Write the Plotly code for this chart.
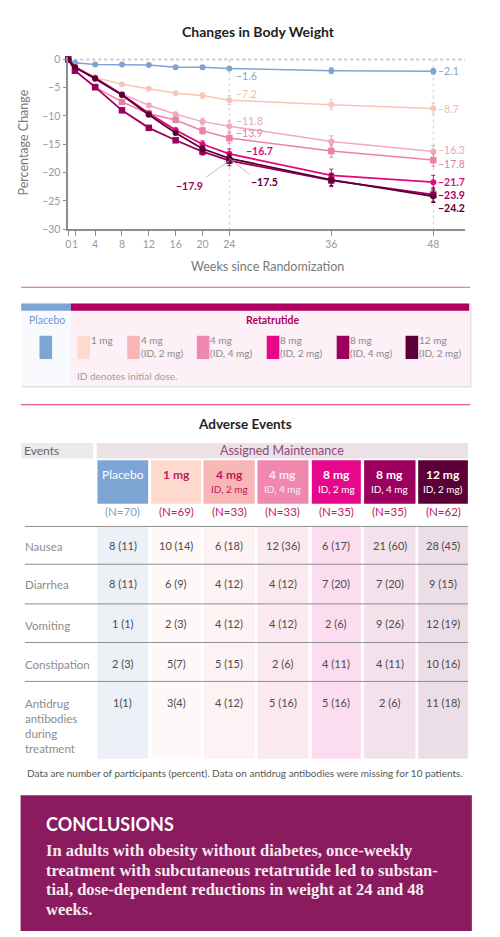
import plotly.graph_objects as go

W, H = 500, 937
def px(x): return x / W
def py(y): return 1 - y / H

# ---------------- data ----------------
WEEKS = [0, 1, 4, 8, 12, 16, 20, 24, 36, 48]
WEEK_TICKS = [0, 1, 4, 8, 12, 16, 20, 24, 36, 48]
Y_TICKS = [0, -5, -10, -15, -20, -25, -30]

GROUPS = ["Placebo", "1 mg", "4 mg (ID, 2 mg)", "4 mg (ID, 4 mg)",
          "8 mg (ID, 2 mg)", "8 mg (ID, 4 mg)", "12 mg (ID, 2 mg)"]
placebo = [0, -0.6, -0.9, -0.9, -1.0, -1.4, -1.4, -1.6, -2.0, -2.1]
mg1 = [0, -1.3, -3.2, -4.4, -5.2, -6.0, -6.4, -7.2, -8.0, -8.7]
mg4_id2 = [0, -1.3, -3.2, -6.1, -8.1, -9.7, -11.0, -11.8, -14.5, -16.3]
mg4_id4 = [0, -2.0, -4.9, -7.5, -9.6, -10.7, -12.6, -13.9, -16.2, -17.8]
mg8_id2 = [0, -1.4, -3.3, -6.2, -9.5, -12.5, -15.0, -16.7, -20.5, -21.7]
mg8_id4 = [0, -2.0, -4.9, -9.0, -12.1, -14.3, -16.3, -17.9, -21.4, -23.9]
mg12 = [0, -1.4, -3.4, -6.3, -9.8, -13.0, -15.8, -17.5, -21.3, -24.2]

err_placebo = [0, 0, 0, 0, 0, 0, 0.2, 0.3, 0.5, 0.5]
err_mg1 = [0, 0, 0, 0, 0, 0, 0.5, 0.8, 0.9, 0.9]
err_mg4_id2 = [0, 0, 0, 0, 0, 0, 0.6, 0.9, 1.0, 1.1]
err_mg4_id4 = [0, 0, 0, 0, 0, 0, 0.6, 0.9, 1.1, 1.1]
err_mg8_id2 = [0, 0, 0, 0, 0, 0, 0.6, 0.9, 1.1, 1.2]
err_mg8_id4 = [0, 0, 0, 0, 0, 0, 0.6, 0.9, 1.1, 1.2]
err_mg12 = [0, 0, 0, 0, 0, 0, 0.5, 0.8, 1.0, 1.1]

# table data
HDR_LINE1 = ["Placebo", "1 mg", "4 mg", "4 mg", "8 mg", "8 mg", "12 mg"]
HDR_LINE2 = ["", "", "ID, 2 mg", "ID, 4 mg", "ID, 2 mg", "ID, 4 mg", "ID, 2 mg)"]
N_PER_GROUP = [70, 69, 33, 33, 35, 35, 62]
EVENT_NAMES = ["Nausea", "Diarrhea", "Vomiting", "Constipation",
               "Antidrug<br>antibodies<br>during<br>treatment"]
nausea = ["8 (11)", "10 (14)", "6 (18)", "12 (36)", "6 (17)", "21 (60)", "28 (45)"]
diarrhea = ["8 (11)", "6 (9)", "4 (12)", "4 (12)", "7 (20)", "7 (20)", "9 (15)"]
vomiting = ["1 (1)", "2 (3)", "4 (12)", "4 (12)", "2 (6)", "9 (26)", "12 (19)"]
constipation = ["2 (3)", "5(7)", "5 (15)", "2 (6)", "4 (11)", "4 (11)", "10 (16)"]
antidrug = ["1(1)", "3(4)", "4 (12)", "5 (16)", "5 (16)", "2 (6)", "11 (18)"]

# ---------------- styles ----------------
FONT = "Lato"
SWATCH = ["#7ea4d3", "#fddacd", "#f6b7b6", "#ef88ae", "#e6078a", "#9c005f", "#5a0036"]
LINEC = ["#7ea4d3", "#f8c6b6", "#f3aab8", "#ec80a9", "#e3087f", "#9c005f", "#5a0036"]
LABELC = ["#7ea4d3", "#f5bca9", "#f0a2b3", "#e97aa4", "#de0a7c", "#9c005f", "#5a0036"]
SYMBOL = ["circle", "circle", "circle", "square", "circle", "square", "circle"]
COLBG = ["#edf0f6", "#fef8f8", "#fdf3f4", "#fbe9f0", "#fcdcef", "#f3e1eb", "#ecdee6"]
HDR_TXT = ["#ffffff", "#c2185b", "#c2185b", "#fde8f0", "#ffffff", "#ffffff", "#ffffff"]

SERIES = [placebo, mg1, mg4_id2, mg4_id4, mg8_id2, mg8_id4, mg12]
ERRS = [err_placebo, err_mg1, err_mg4_id2, err_mg4_id4, err_mg8_id2, err_mg8_id4, err_mg12]

SCALE_AFTER_24 = 8.55 / 6.75
def xpos(w):
    return w if w <= 24 else 24 + (w - 24) * SCALE_AFTER_24

fig = go.Figure()

for i, (vals, errs) in enumerate(zip(SERIES, ERRS)):
    fig.add_trace(go.Scatter(
        x=[xpos(w) for w in WEEKS], y=vals, mode="lines+markers",
        name=GROUPS[i],
        line=dict(color=LINEC[i], width=1.8 if i >= 4 else 1.5),
        marker=dict(color=LINEC[i], size=6.5 if SYMBOL[i] == "square" else 6, symbol=SYMBOL[i]),
        error_y=dict(type="data", array=errs, color=LINEC[i], thickness=1, width=2),
        cliponaxis=False, showlegend=False, hoverinfo="skip"))

XMAX = (465 - 65.7) / 6.75
fig.update_layout(
    width=W, height=H, margin=dict(l=0, r=0, t=0, b=0),
    paper_bgcolor="white", plot_bgcolor="white",
    font=dict(family=FONT, color="#555"),
    xaxis=dict(domain=[px(65.7), px(465)], range=[0, XMAX],
               tickvals=[xpos(w) for w in WEEK_TICKS],
               ticktext=[str(w) for w in WEEK_TICKS], tickangle=0,
               showgrid=False, zeroline=False, showline=True, linecolor="#8c8c8c", linewidth=1.5,
               ticks="outside", ticklen=5, tickcolor="#8c8c8c",
               tickfont=dict(size=10.5, color="#9a9a9a", family=FONT)),
    yaxis=dict(domain=[py(228.3), py(54.1)], range=[-30, 0.5],
               tickvals=Y_TICKS,
               ticktext=[("\u2212" + str(-v)) if v < 0 else str(v) for v in Y_TICKS],
               showgrid=False, zeroline=False, showline=True, linecolor="#8c8c8c", linewidth=1.5,
               ticks="outside", ticklen=4, tickcolor="#8c8c8c",
               tickfont=dict(size=10.5, color="#9a9a9a", family=FONT)),
)

shapes = []
ann = []

def label(x, y, text, size, color, xa="center", ya="middle", family=FONT, **kw):
    if xa == "left":
        x -= 3
    ann.append(dict(x=px(x), y=py(y), xref="paper", yref="paper", text=text, showarrow=False,
                    xanchor=xa, yanchor=ya, font=dict(size=size, color=color, family=family), **kw))

def rect(x0, y0, x1, y1, fill, line=None, layer="above"):
    shapes.append(dict(type="rect", xref="paper", yref="paper", x0=px(x0), x1=px(x1), y0=py(y1), y1=py(y0),
                       line=line or dict(width=0), fillcolor=fill, layer=layer))

# reference lines in chart
shapes.append(dict(type="line", xref="x", yref="y", x0=0, x1=XMAX, y0=0, y1=0,
                   line=dict(color="#c9c9c9", width=2, dash="dot"), layer="below"))
for w in (24, 48):
    shapes.append(dict(type="line", xref="x", yref="y", x0=xpos(w), x1=xpos(w), y0=0, y1=-30,
                       line=dict(color="#cfcfcf", width=1, dash="dot"), layer="below"))

# titles
label(257, 29, "<b>Changes in Body Weight</b>", 14, "#222")
label(21, 141, "Percentage Change", 12.5, "#7a7a7a", textangle=-90)
label(266, 266, "Weeks since Randomization", 12.5, "#7a7a7a")

def fmt(v):
    return "\u2212" + f"{-v:.1f}"

def dlabel(i, week_idx, xshift, yshift, bold, xa="left"):
    t = fmt(SERIES[i][week_idx])
    ann.append(dict(x=xpos(WEEKS[week_idx]), y=SERIES[i][week_idx], xref="x", yref="y",
                    text=f"<b>{t}</b>" if bold else t, xanchor=xa, yanchor="middle",
                    xshift=xshift, yshift=yshift, showarrow=False,
                    font=dict(size=10.5, color=LABELC[i], family=FONT)))

# value labels at week 24
for i, dx, dy, bold in [(0, 5, -8, False), (1, 5, 6, False), (2, 5, 5, False), (3, 5, 5, False), (4, 15, 3, True)]:
    dlabel(i, 7, dx, dy, bold)
# leader labels for 8mg ID4 and 12mg at week 24
for i, axo, ayo in [(5, -24, 17), (6, 20, 16)]:
    ann.append(dict(x=xpos(24), y=SERIES[i][7], xref="x", yref="y", text=f"<b>{fmt(SERIES[i][7])}</b>",
                    showarrow=True, arrowhead=0, arrowwidth=0.8, arrowcolor="#b0b0b0",
                    ax=axo, ay=ayo, xanchor="right" if axo < 0 else "left", yanchor="top",
                    font=dict(size=10.5, color=LABELC[i], family=FONT)))
# value labels at week 48
for i, dy, bold in [(0, 0, False), (1, 0, False), (2, 2, False), (3, -4, False), (4, 0, True), (5, 0, True), (6, -12, True)]:
    dlabel(i, 9, 3, dy, bold)

# pink separators
for yy in (287, 405.5):
    shapes.append(dict(type="line", xref="paper", yref="paper", x0=px(18), x1=px(470), y0=py(yy), y1=py(yy),
                       line=dict(color="#e0589a", width=1.2)))

# ---------------- legend box ----------------
rect(19.5, 304.5, 470.5, 387.5, "#fafafa", dict(color="#e2e2e2", width=1.5), "below")
rect(18.3, 303.3, 68.3, 386, "#f8fafd")
rect(68.3, 303.3, 469, 386, "#fdf0f6")
rect(18.3, 303.3, 68.3, 310.7, "#7ea4d3")
rect(68.3, 303.3, 469, 310.7, "#b0005f")
label(44, 320, "Placebo", 10.5, "#6f99cf")
label(272, 320, "<b>Retatrutide</b>", 10.5, "#b0005f")
SW_X = [36.7, 75, 125, 195, 265.3, 335.7, 405]
for i, x0 in enumerate(SW_X):
    rect(x0, 336, x0 + 12.7, 359.5, SWATCH[i])
    if i == 0:
        continue
    name = GROUPS[i]
    if "(" in name:
        l1, l2 = name.split(" (")
        l2 = "(" + l2
    else:
        l1, l2 = name, ""
    label(x0 + 14.5, 340, l1, 10, "#8a8a8a", xa="left")
    if l2:
        label(x0 + 14.5, 353.3, l2, 10, "#8a8a8a", xa="left")
label(75, 377, "ID denotes initial dose.", 10, "#a0a0a0", xa="left")

# ---------------- adverse events table ----------------
label(243, 425, "<b>Adverse Events</b>", 13.5, "#222")
rect(18.3, 444.3, 90.7, 460, "#ebebeb")
label(22, 452, "Events", 12, "#666", xa="left")
rect(94.3, 444.3, 467.7, 460, "#ece1e6")
label(281, 452, "Assigned Maintenance", 12.5, "#8e4a78")

COL_X = [(95, 146), (149, 199.3), (201.7, 253.3), (256, 307.3), (310.7, 360), (363.3, 415), (417.7, 467.7)]
for i, (x0, x1) in enumerate(COL_X):
    rect(x0, 528.5, x1, 763, COLBG[i], layer="below")
    rect(x0, 461.7, x1, 505.7, SWATCH[i])
    cx = (x0 + x1) / 2
    label(cx, 476, f"<b>{HDR_LINE1[i]}</b>" if i else HDR_LINE1[i], 12, HDR_TXT[i])
    if HDR_LINE2[i]:
        label(cx, 490.5, HDR_LINE2[i], 10, HDR_TXT[i])
    label(cx, 513.5, f"(N={N_PER_GROUP[i]})", 11.5, "#7a9fd0" if i == 0 else "#c0186a")

ROWS = [nausea, diarrhea, vomiting, constipation, antidrug]
ROW_Y = [548, 586.5, 627, 667, 706.5]
for r, (vals, yy) in enumerate(zip(ROWS, ROW_Y)):
    label(23, yy - 7.5, EVENT_NAMES[r], 11.5, "#8c8c8c", xa="left", ya="top", align="left")
    for i, (x0, x1) in enumerate(COL_X):
        label((x0 + x1) / 2, yy, vals[i], 11, "#4d4d4d")
for yy in (528.5, 566.7, 606.7, 645.7, 685):
    shapes.append(dict(type="line", xref="paper", yref="paper", x0=px(22), x1=px(468), y0=py(yy), y1=py(yy),
                       line=dict(color="#8f8f8f", width=1)))
label(25, 777.5, "Data are number of participants (percent). Data on antidrug antibodies were missing for 10 patients.",
      10, "#555", xa="left")

# ---------------- conclusions ----------------
rect(17.7, 800, 471.7, 937, "#8a1b5e")
label(44.5, 828.5, "<b>CONCLUSIONS</b>", 18, "#ffffff", xa="left")
CONC = ["In adults with obesity without diabetes, once-weekly",
        "treatment with subcutaneous retatrutide led to substan-",
        "tial, dose-dependent reductions in weight at 24 and 48",
        "weeks."]
for k, line in enumerate(CONC):
    label(44.5, 856 + 19.7 * k, f"<b>{line}</b>", 16.5, "#f6e9f0", xa="left", family="Liberation Serif")

fig.update_layout(shapes=shapes, annotations=ann)
fig.write_html("out.html", config={"displayModeBar": False},
               post_script="document.body.style.margin='0';document.body.style.overflow='hidden';")
